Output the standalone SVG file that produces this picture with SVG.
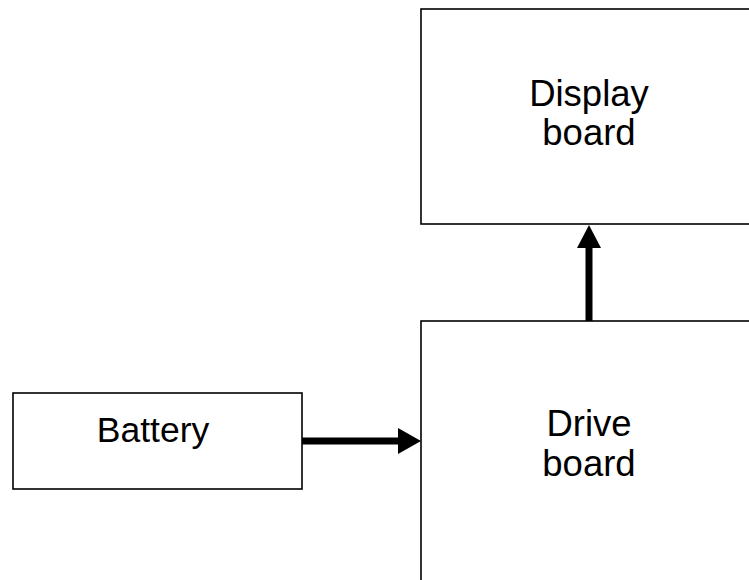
<svg xmlns="http://www.w3.org/2000/svg" width="749" height="580" viewBox="0 0 749 580">
<style>
.box{fill:#fff;stroke:#000;stroke-width:1.6}
.lbl{font-family:"Liberation Sans",Arial,sans-serif;font-size:36.5px;fill:#000;text-anchor:middle}
.conn{stroke:#000;stroke-width:7;fill:none}
.head{fill:#000}
</style>
<rect width="749" height="580" fill="#fff"/>
<g id="display-board">
<rect class="box" x="421" y="9" width="340" height="215"/>
<text class="lbl" x="589" y="106">Display</text>
<text class="lbl" x="589" y="145">board</text>
</g>
<g id="drive-board">
<rect class="box" x="421" y="321" width="340" height="270"/>
<text class="lbl" x="589" y="436">Drive</text>
<text class="lbl" x="589" y="476">board</text>
</g>
<g id="battery">
<rect class="box" x="13" y="393" width="289" height="96"/>
<text class="lbl" x="153" y="442" style="font-size:35.5px">Battery</text>
</g>
<g id="connectors">
<line class="conn" x1="302" y1="441" x2="399" y2="441"/>
<polygon class="head" points="398,428 421,441 398,454"/>
<line class="conn" x1="589" y1="321" x2="589" y2="247"/>
<polygon class="head" points="577,248 589,225 601,248"/>
</g>
</svg>
